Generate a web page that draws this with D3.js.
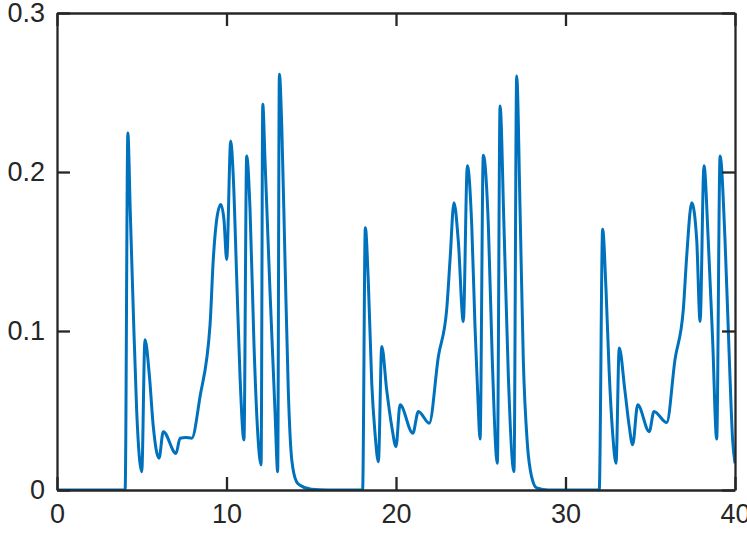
<!DOCTYPE html>
<html>
<head>
<meta charset="utf-8">
<script src="https://cdn.jsdelivr.net/npm/d3@7"></script>
<style>
  body { margin: 0; background: #fff; }
  .axis text { font-family: "Liberation Sans", Arial, sans-serif; font-size: 27px; fill: #262626; }
  .axis path, .axis line { stroke: #262626; stroke-width: 2.3px; }
</style>
</head>
<body>
<div id="chart"></div>
<script>
// time axis values (s)
var timeValues = [
  0, 4.02, 4.18, 4.32, 4.5, 4.7, 5.0, 5.19, 5.45, 5.68, 6.02, 6.27, 7.02, 7.26, 7.6, 7.95,
  8.44, 9.03, 9.22, 9.42, 9.66, 9.85, 10.01, 10.25, 10.4, 10.6, 10.8, 11.03, 11.19, 11.39,
  11.62, 11.82, 12.04, 12.14, 12.27, 12.57, 12.86, 13.02, 13.12, 13.26, 13.45, 13.65, 13.85,
  14.14, 14.34, 15.0, 16.0,
  18.03, 18.19, 18.37, 18.57, 18.76, 18.96, 19.16, 19.45, 19.75, 20.0, 20.24, 20.99, 21.32,
  21.96, 22.5, 22.99, 23.19, 23.42, 23.68, 23.97, 24.21, 24.47, 24.66, 24.82, 24.96, 25.15,
  25.45, 25.68, 25.98, 26.14, 26.37, 26.63, 26.96, 27.12, 27.32, 27.51, 27.75, 28.0, 28.3, 29.0,
  31.99, 32.19, 32.39, 32.58, 32.78, 32.98, 33.17, 33.5, 33.76, 33.96, 34.26, 34.94, 35.22,
  35.97, 36.46, 36.95, 37.15, 37.45, 37.74, 37.94, 38.17, 38.42, 38.68, 38.92, 39.12, 39.41,
  39.66, 39.86, 40.0
];
var signalValues = [
  0, 0, 0.2245, 0.176, 0.113, 0.050, 0.0115, 0.0945, 0.072, 0.040, 0.020, 0.0367, 0.023, 0.0326, 0.033, 0.0326,
  0.0588, 0.104, 0.145, 0.170, 0.1796, 0.170, 0.145, 0.2195, 0.197, 0.134, 0.071, 0.0315, 0.21, 0.176,
  0.092, 0.040, 0.0158, 0.2426, 0.208, 0.124, 0.050, 0.0115, 0.2615, 0.229, 0.145, 0.061, 0.019,
  0.005, 0.003, 0.0005, 0,
  0, 0.165, 0.130, 0.067, 0.036, 0.0178, 0.0903, 0.063, 0.040, 0.0273, 0.0536, 0.0357, 0.0494,
  0.042, 0.084, 0.1134, 0.145, 0.1806, 0.156, 0.106, 0.204, 0.166, 0.103, 0.061, 0.032, 0.2105,
  0.166, 0.082, 0.0168, 0.2415, 0.166, 0.071, 0.0115, 0.2604, 0.176, 0.082, 0.029, 0.0084, 0.0013, 0,
  0, 0.164, 0.126, 0.0735, 0.036, 0.0168, 0.0893, 0.063, 0.040, 0.0284, 0.0536, 0.0367, 0.0494,
  0.0424, 0.082, 0.1134, 0.147, 0.1806, 0.1575, 0.106, 0.204, 0.1575, 0.0945, 0.032, 0.21, 0.1575,
  0.084, 0.0315, 0.0168
];
var xTicks = [0, 10, 20, 30, 40];
var yTicks = [0, 0.1, 0.2, 0.3];

var svgWidth = 747;
var svgHeight = 534;
var margin = {top: 13, right: 12, bottom: 44, left: 57};
var innerW = svgWidth - margin.left - margin.right;
var innerH = svgHeight - margin.top - margin.bottom;
var tick = 13;

var points = timeValues.map(function(t, i) { return [t, signalValues[i]]; });

var xScale = d3.scaleLinear().domain([0, 40]).range([0, innerW]);
var yScale = d3.scaleLinear().domain([0, 0.3]).range([innerH, 0]);

var svg = d3.select("#chart").append("svg")
  .attr("width", svgWidth)
  .attr("height", svgHeight);

var g = svg.append("g")
  .attr("transform", "translate(" + margin.left + "," + margin.top + ")");

g.append("clipPath").attr("id", "clip")
  .append("rect").attr("width", innerW).attr("height", innerH);

//the signal line
var line = d3.line()
  .x(function(d) { return xScale(d[0]); })
  .y(function(d) { return yScale(d[1]); })
  .curve(d3.curveMonotoneX);

g.append("path")
  .datum(points)
  .attr("clip-path", "url(#clip)")
  .attr("fill", "none")
  .attr("stroke", "#0072BD")
  .attr("stroke-width", 3)
  .attr("stroke-linejoin", "round")
  .attr("d", line);

//axes with inward ticks, labels only bottom and left
g.append("g").attr("class", "axis")
  .attr("transform", "translate(0," + innerH + ")")
  .call(d3.axisBottom(xScale).tickValues(xTicks).tickFormat(d3.format("d"))
    .tickSizeInner(-tick).tickSizeOuter(0).tickPadding(14));

g.append("g").attr("class", "axis")
  .call(d3.axisLeft(yScale).tickValues(yTicks).tickFormat(function(d) { return d === 0 ? "0" : d3.format(".1f")(d); })
    .tickSizeInner(-tick).tickSizeOuter(0).tickPadding(12));

g.append("g").attr("class", "axis")
  .call(d3.axisTop(xScale).tickValues(xTicks).tickFormat("")
    .tickSizeInner(-tick).tickSizeOuter(0));

g.append("g").attr("class", "axis")
  .attr("transform", "translate(" + innerW + ",0)")
  .call(d3.axisRight(yScale).tickValues(yTicks).tickFormat("")
    .tickSizeInner(-tick).tickSizeOuter(0));
</script>
</body>
</html>
